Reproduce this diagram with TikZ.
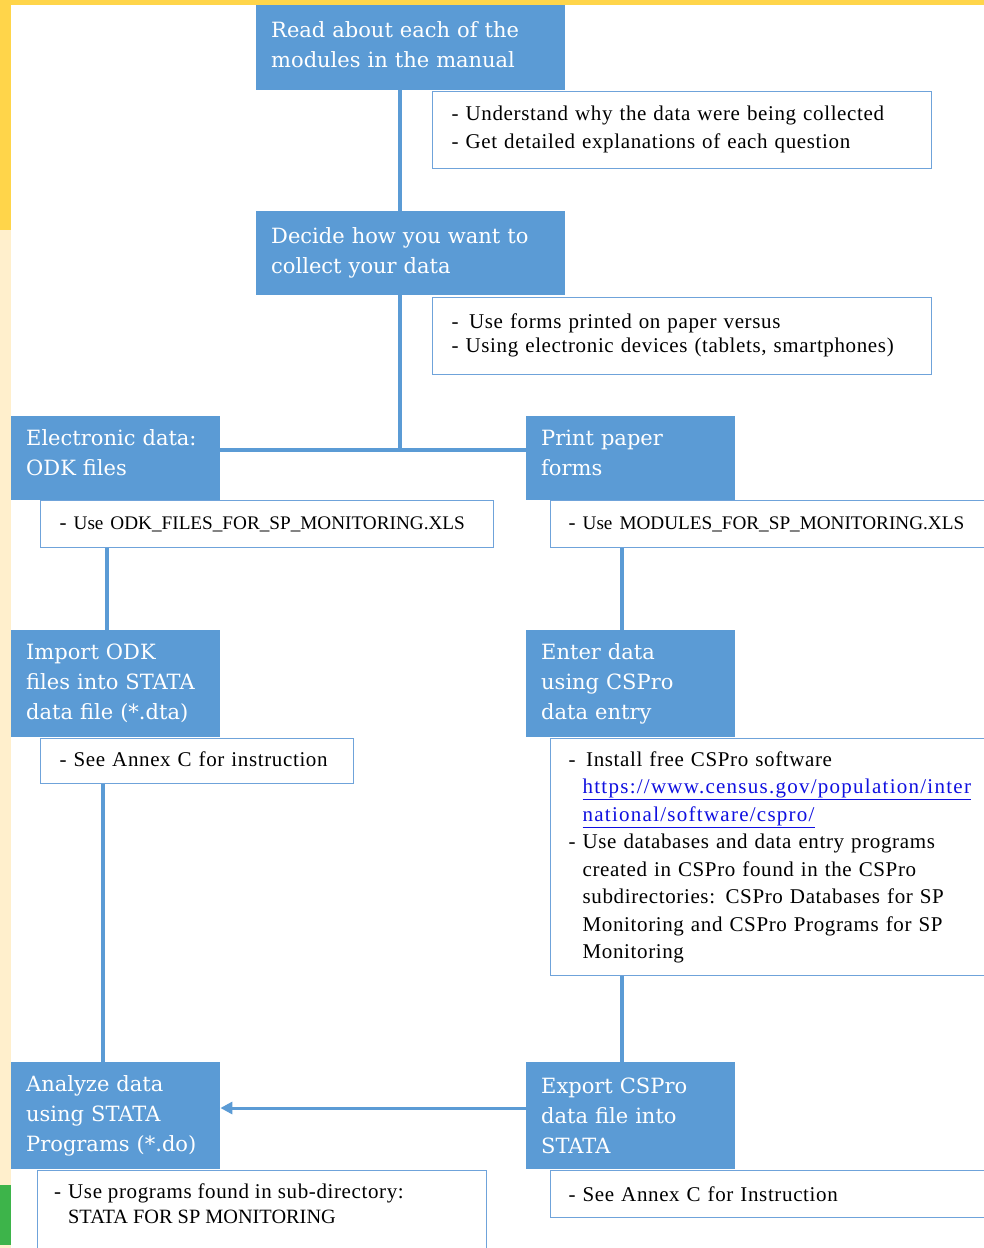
\documentclass[tikz,border=0pt]{standalone}
\usepackage{fontspec}
\setmainfont{Liberation Serif}[LetterSpace=3]
\newfontfamily\plainserif{Liberation Serif}
\newfontfamily\slab{DejaVu Serif}
\usetikzlibrary{arrows.meta}
\definecolor{bx}{HTML}{5B9BD5}
\definecolor{bd}{HTML}{6FA3DA}
\definecolor{yel}{HTML}{FFD54A}
\definecolor{crm}{HTML}{FFEFCC}
\definecolor{grn}{HTML}{3DB44A}
\definecolor{url}{HTML}{1010E0}
\tikzset{
 bluebox/.style={fill=bx, draw=none, anchor=north west, inner xsep=15pt, inner ysep=0pt, align=left, text=white, font=\slab\fontsize{21}{30}\selectfont},
 notebox/.style={fill=white, draw=bd, line width=1.3pt, anchor=north west, inner xsep=19pt, inner ysep=0pt, align=left, font=\fontsize{21}{27.5}\selectfont},
 notetext/.style={anchor=north west, inner sep=0pt, align=left, font=\fontsize{21}{25}\selectfont},
 link/.style={draw=bx, line width=4pt},
}
\newcommand{\bl}{\makebox[14pt][l]{-}}
\newcommand{\ind}{\hspace*{14pt}}
\newcommand{\capsfont}{\plainserif\fontsize{19.2}{27.5}\selectfont}
\newcommand{\capsfontb}{\plainserif\fontsize{20.3}{25}\selectfont}
\newcommand{\urlfont}{\addfontfeatures{LetterSpace=6}}
\begin{document}
\begin{tikzpicture}[x=1pt,y=-1pt]
\useasboundingbox (0,0) rectangle (984,1248);
\clip (0,0) rectangle (984,1248);
\fill[white] (0,0) rectangle (984,1248);
\fill[yel] (0,0) rectangle (984,5);
\fill[yel] (0,0) rectangle (11,230);
\fill[crm] (0,230) rectangle (11,1185);
\fill[grn] (0,1185) rectangle (11,1245);
\fill[crm] (0,1245) rectangle (11,1248);

% note boxes
\node[notebox, text width=461pt, minimum height=77pt] (A) at (432,91)
 {\bl Understand why the data were being collected\\ \bl Get detailed explanations of each question\\[-21.5pt]\mbox{}};
\node[notebox, text width=461pt, minimum height=77pt] (B) at (432,297)
 {\bl\,Use forms printed on paper versus\\[-3pt] \bl Using electronic devices (tablets, smartphones)\\[-21.5pt]\mbox{}};
\node[notebox, text width=415pt, minimum height=47pt] (C) at (40,500)
 {\bl {\capsfont Use ODK\_FILES\_FOR\_SP\_MONITORING.XLS}};
\node[notebox, text width=414pt, minimum height=47pt, inner xsep=18pt] (D) at (550,500)
 {\bl {\capsfont Use MODULES\_FOR\_SP\_MONITORING.XLS}};
\node[notebox, text width=275pt, minimum height=45pt] (E) at (40,738)
 {\bl See Annex C for instruction\\[-23pt]\mbox{}};
\node[notebox, text width=414pt, minimum height=237pt, inner xsep=18pt] (F) at (550,738)
 {\bl\,Install free CSPro software\\
  \ind{\urlfont\textcolor{url}{\underline{https://www.census.gov/population/inter}}}\\
  \ind{\urlfont\textcolor{url}{\underline{national/software/cspro/}}}\\
  \bl Use databases and data entry programs\\
  \ind created in CSPro found in the CSPro\\
  \ind subdirectories: CSPro Databases for SP\\
  \ind Monitoring and CSPro Programs for SP\\
  \ind Monitoring};
\node[notebox, minimum width=449pt, minimum height=110pt] (G) at (37,1170) {};
\node[notetext] (Gt) at (54,1183)
 {\bl Use programs found in sub-directory:\\ \ind{\capsfontb STATA FOR SP MONITORING}};
\node[notebox, text width=414pt, minimum height=47pt, inner xsep=18pt] (H) at (550,1170)
 {\bl See Annex C for Instruction};

% blue boxes
\node[bluebox, text width=279pt, minimum height=85pt] (n1) at (256,5)
 {Read about each of the\\modules in the manual\\[-23pt]\mbox{}};
\node[bluebox, text width=279pt, minimum height=84pt] (n2) at (256,211)
 {Decide how you want to\\collect your data\\[-25pt]\mbox{}};
\node[bluebox, text width=179pt, minimum height=84pt] (n3) at (11,416)
 {Electronic data:\\ODK files\\[-19pt]\mbox{}};
\node[bluebox, text width=179pt, minimum height=84pt] (n4) at (526,416)
 {Print paper\\forms\\[-19pt]\mbox{}};
\node[bluebox, text width=179pt, minimum height=107pt] (n5) at (11,630)
 {Import ODK\\files into STATA\\data file (*.dta)};
\node[bluebox, text width=179pt, minimum height=107pt] (n6) at (526,630)
 {Enter data\\using CSPro\\data entry};
\node[bluebox, text width=179pt, minimum height=107pt] (n7) at (11,1062)
 {Analyze data\\using STATA\\Programs (*.do)};
\node[bluebox, text width=179pt, minimum height=107pt] (n8) at (526,1062)
 {Export CSPro\\data file into\\STATA};

% connectors
\coordinate (x400) at (400,0);
\coordinate (jn) at (400,450);
\coordinate (xc) at (107,0);
\coordinate (xd) at (622,0);
\coordinate (xe) at (103,0);
\coordinate (ya) at (0,1108);
\draw[link] (n1.south -| x400) -- (n2.north -| x400);
\draw[link] (n2.south -| jn) -- (jn);
\draw[link] (n3.east |- jn) -- (n4.west |- jn);
\draw[link] (C.south -| xc) -- (n5.north -| xc);
\draw[link] (D.south -| xd) -- (n6.north -| xd);
\draw[link] (E.south -| xe) -- (n7.north -| xe);
\draw[link] (F.south -| xd) -- (n8.north -| xd);
\draw[link, line width=3pt, -{Triangle[length=12pt,width=12pt]}] (n8.west |- ya) -- (n7.east |- ya);
\end{tikzpicture}
\end{document}
